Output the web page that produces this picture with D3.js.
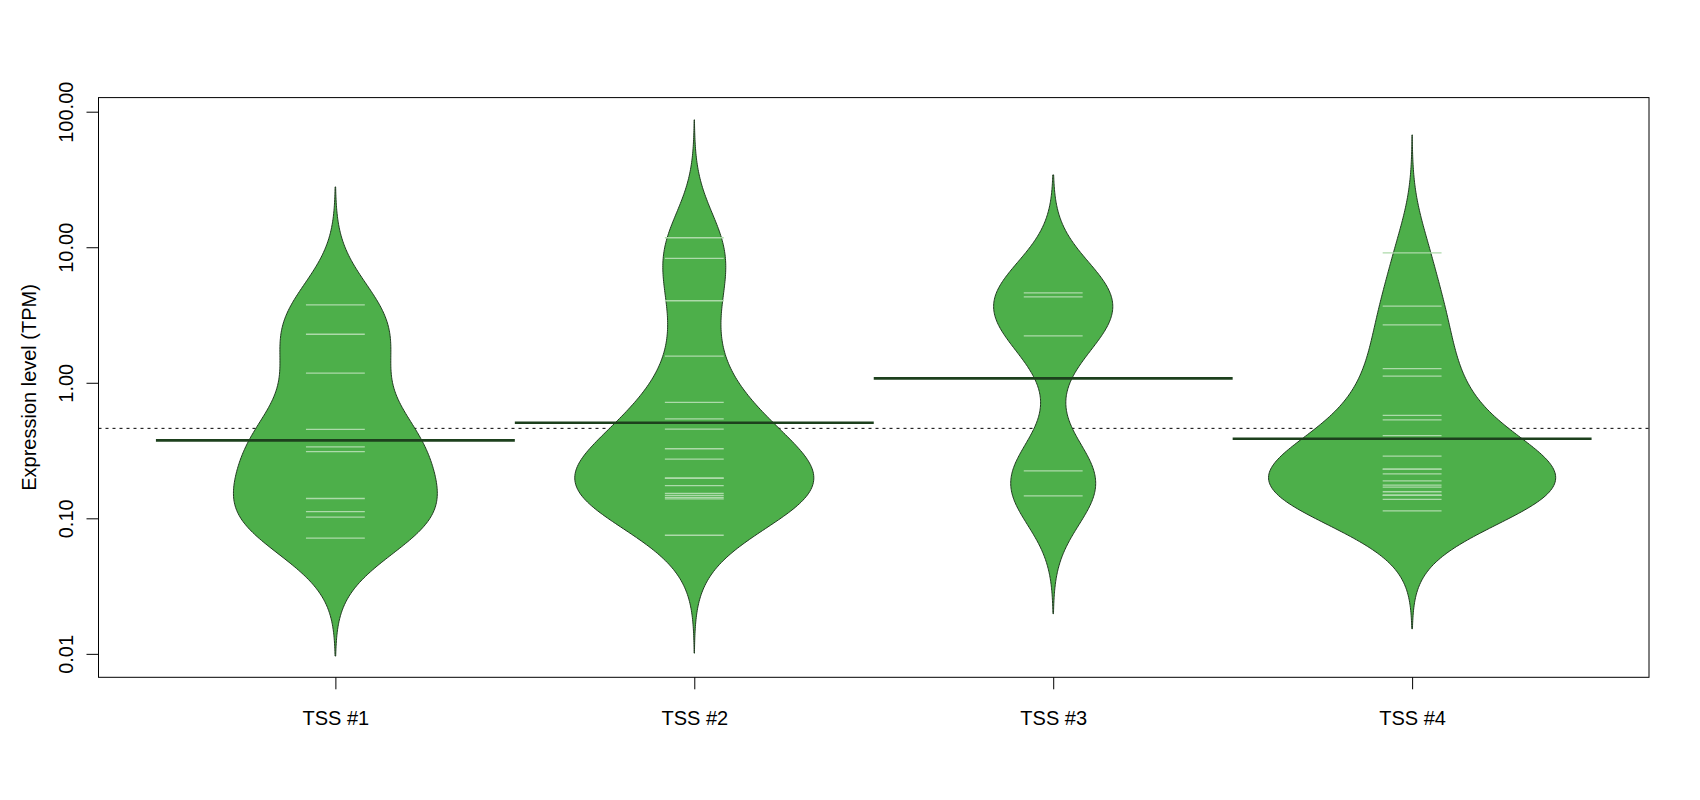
<!DOCTYPE html>
<html>
<head>
<meta charset="utf-8">
<script src="https://cdn.jsdelivr.net/npm/d3@7"></script>
<style>
body { margin: 0; background: #fff; }
text { font-family: "Liberation Sans", Arial, sans-serif; }
</style>
</head>
<body>
<div id="bean_div"></div>
<script>
// values (TPM)
const categories = ["TSS #1", "TSS #2", "TSS #3", "TSS #4"];
const tss1 = [3.76, 2.28, 1.18, 0.453, 0.337, 0.31, 0.14, 0.112, 0.102, 0.0714];
const tss2 = [11.75, 8.28, 4.03, 1.57, 0.716, 0.542, 0.455, 0.326, 0.273, 0.199, 0.197, 0.174, 0.153, 0.1476, 0.1426, 0.1393, 0.075];
const tss3 = [4.61, 4.31, 2.22, 0.224, 0.1466];
const tss4 = [9.1, 3.68, 2.67, 1.27, 1.12, 0.574, 0.533, 0.408, 0.288, 0.231, 0.231, 0.213, 0.189, 0.176, 0.17, 0.157, 0.148, 0.148, 0.138, 0.1135];
const beanMeans = [0.376, 0.507, 1.077, 0.386];   // per bean average line
const overallMean = 0.461;                         // dotted line
const beanMaxWidth = [0.284, 0.333, 0.166, 0.40];  // widest half width of each bean (x units)
const yTicks = [0.01, 0.1, 1, 10, 100];
const yTickLabels = ["0.01", "0.10", "1.00", "10.00", "100.00"];

const allBeans = [tss1, tss2, tss3, tss4];

// density settings (log10 units)
const bw = 0.29;
const cut = 3;
const beanLineHalf = 0.082;

const svgWidth = 1700, svgHeight = 800;
const box = {left: 98.5, right: 1649, top: 97.6, bottom: 677.3};
const fontSize = "20px";

const beanFill = "#4DAF4A";
const beanBorder = "#1f3a1f";
const beanLineCol = "#addaaa";
const avgLineCol = "#1d401d";

const svg = d3.select("#bean_div").append("svg")
    .attr("width", svgWidth)
    .attr("height", svgHeight);

const x = d3.scaleLinear()
    .domain([0.34, 4.66])
    .range([box.left, box.right]);

const y = d3.scaleLog()
    .domain([Math.pow(10, -2.173), Math.pow(10, 2.104)])
    .range([box.bottom, box.top]);

// gaussian kernel density on log scale
function beanDensity(values) {
    const logs = values.map(v => Math.log10(v));
    const lo = d3.min(logs) - cut * bw, hi = d3.max(logs) + cut * bw;
    const n = 300;
    const pts = [];
    for (let k = 0; k <= n; k++) {
        const t = lo + (hi - lo) * k / n;
        let s = 0;
        logs.forEach(l => {
            const u = (t - l) / bw;
            s += Math.exp(-0.5 * u * u);
        });
        pts.push({t: t, d: s / (logs.length * bw * Math.sqrt(2 * Math.PI))});
    }
    return pts;
}

// overall dotted line (behind the beans)
svg.append("line")
    .attr("x1", box.left).attr("x2", box.right)
    .attr("y1", y(overallMean)).attr("y2", y(overallMean))
    .attr("stroke", "#000")
    .attr("stroke-width", 1)
    .attr("stroke-dasharray", "3,4");

const bean_g = svg.append("g");

allBeans.forEach((vals, i) => {
    const c = i + 1;
    const dens = beanDensity(vals);
    const maxD = d3.max(dens, d => d.d);
    const hw = d => d.d / maxD * beanMaxWidth[i];

    const area = d3.area()
        .y(d => y(Math.pow(10, d.t)))
        .x0(d => x(c - hw(d)))
        .x1(d => x(c + hw(d)));

    bean_g.append("path")
        .datum(dens)
        .attr("d", area)
        .attr("fill", beanFill)
        .attr("stroke", beanBorder)
        .attr("stroke-width", 1);

    bean_g.selectAll(".bl" + i)
        .data(vals)
        .enter().append("line")
        .attr("class", "bl" + i)
        .attr("x1", x(c - beanLineHalf))
        .attr("x2", x(c + beanLineHalf))
        .attr("y1", d => y(d))
        .attr("y2", d => y(d))
        .attr("stroke", beanLineCol)
        .attr("stroke-width", 1.3);

    bean_g.append("line")
        .attr("x1", x(c - 0.5)).attr("x2", x(c + 0.5))
        .attr("y1", y(beanMeans[i])).attr("y2", y(beanMeans[i]))
        .attr("stroke", avgLineCol)
        .attr("stroke-width", 2.6);
});

// y axis
const yAxisCall = d3.axisLeft(y)
    .tickValues(yTicks)
    .tickFormat((d, i) => yTickLabels[i])
    .tickSize(12)
    .tickSizeOuter(0);

const yAxis = svg.append("g")
    .attr("transform", `translate(${box.left}, 0)`)
    .call(yAxisCall);
yAxis.select(".domain").remove();
yAxis.selectAll(".tick line").attr("stroke", "#000");
yAxis.selectAll(".tick text")
    .attr("x", null).attr("dy", null)
    .attr("text-anchor", "middle")
    .attr("transform", `translate(${73 - box.left}, 0) rotate(-90)`)
    .attr("font-size", fontSize)
    .attr("font-family", null)
    .attr("fill", "#000");

// x axis
const xAxisCall = d3.axisBottom(x)
    .tickValues([1, 2, 3, 4])
    .tickFormat((d, i) => categories[i])
    .tickSize(12)
    .tickSizeOuter(0);

const xAxis = svg.append("g")
    .attr("transform", `translate(0, ${box.bottom})`)
    .call(xAxisCall);
xAxis.select(".domain").remove();
xAxis.selectAll(".tick line").attr("stroke", "#000");
xAxis.selectAll(".tick text")
    .attr("y", 725 - box.bottom).attr("dy", null)
    .attr("font-size", fontSize)
    .attr("font-family", null)
    .attr("fill", "#000");

// Y label
svg.append("text")
    .attr("transform", `translate(36, ${(box.top + box.bottom) / 2}) rotate(-90)`)
    .attr("text-anchor", "middle")
    .attr("font-size", fontSize)
    .text("Expression level (TPM)");

// plot box
svg.append("rect")
    .attr("x", box.left).attr("y", box.top)
    .attr("width", box.right - box.left)
    .attr("height", box.bottom - box.top)
    .attr("fill", "none")
    .attr("stroke", "#000")
    .attr("stroke-width", 1);
</script>
</body>
</html>
